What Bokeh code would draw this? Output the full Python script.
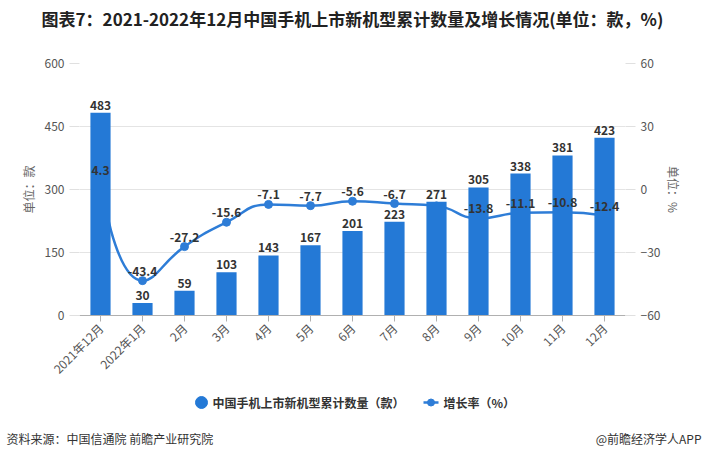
import math
from bokeh.plotting import figure
from bokeh.layouts import column
from bokeh.models import (Range1d, LinearAxis, FixedTicker, ColumnDataSource, Label)
from bokeh.embed import file_html
from bokeh.resources import INLINE
from bokeh.core.properties import value

# ---------------- data ----------------
categories = ["2021年12月", "2022年1月", "2月", "3月", "4月", "5月", "6月",
              "7月", "8月", "9月", "10月", "11月", "12月"]
models = [483, 30, 59, 103, 143, 167, 201, 223, 271, 305, 338, 381, 423]
growth = [4.3, -43.4, -27.2, -15.6, -7.1, -7.7, -5.6, -6.7, -7.8, -13.8, -11.1, -10.8, -12.4]
hidden_growth_label = ["8月"]          # label hidden in the original (overlap)
left_ticks = [0, 150, 300, 450, 600]
right_ticks = [-60, -30, 0, 30, 60]

title_text = "图表7：2021-2022年12月中国手机上市新机型累计数量及增长情况(单位：款，%)"
source_text = "资料来源：中国信通院 前瞻产业研究院"
brand_text = "@前瞻经济学人APP"
bar_name = "中国手机上市新机型累计数量（款）"
line_name = "增长率（%）"

# ---------------- style ----------------
FONT = "Noto Sans CJK SC"
BAR = "#2479d6"
LINE = "#2e7dd7"
W = 704
TOP_H = 40
MAIN_H = 350
BOT_H = 69
BL, BT, FW, FH = 79, 23, 546, 252
BR = W - BL - FW
BB = MAIN_H - BT - FH


def strip(h):
    f = figure(width=W, height=h, output_backend="svg", toolbar_location=None,
               x_range=Range1d(0, W), y_range=Range1d(h, 0),
               x_axis_type=None, y_axis_type=None, min_border=0, frame_align=False)
    f.outline_line_color = None
    f.grid.visible = False
    return f


# ---------------- title strip ----------------
top = strip(TOP_H)
top.add_layout(Label(x=W / 2, y=18, text=title_text, text_align="center",
                     text_baseline="middle", text_font=FONT, text_font_size="17px",
                     text_font_style="bold", text_color="#222222"))

# ---------------- main chart ----------------
n = len(categories)
xs = list(range(n))

p = figure(width=W, height=MAIN_H, output_backend="svg", toolbar_location=None,
           x_range=Range1d(-0.5, n - 0.5), y_range=Range1d(0, 600),
           min_border_left=BL, min_border_right=BR, min_border_top=BT,
           min_border_bottom=BB, frame_align=False)
p.outline_line_color = None
p.extra_y_ranges = {"pct": Range1d(-60, 60)}

p.xgrid.visible = False
p.ygrid.ticker = FixedTicker(ticks=left_ticks)
p.ygrid.grid_line_color = "#e4e4e4"

xa = p.xaxis[0]
xa.ticker = FixedTicker(ticks=xs)
xa.major_label_overrides = {i: c for i, c in enumerate(categories)}
xa.major_label_orientation = math.pi / 4
xa.axis_line_color = "#b0b0b0"
xa.major_tick_line_color = "#b0b0b0"
xa.major_tick_out = 6
xa.major_tick_in = 0
xa.minor_tick_line_color = None
xa.major_label_text_font = FONT
xa.major_label_text_font_size = "12px"
xa.major_label_text_color = "#555555"
xa.major_label_standoff = 4

ya = p.yaxis[0]
ya.ticker = FixedTicker(ticks=left_ticks)
ya.axis_line_color = None
ya.major_tick_line_color = "#e0e0e0"
ya.major_tick_out = 10
ya.major_tick_in = 0
ya.minor_tick_line_color = None
ya.major_label_text_font = FONT
ya.major_label_text_font_size = "12px"
ya.major_label_text_color = "#555555"
ya.axis_label = "单位：款"
ya.axis_label_text_font = FONT
ya.axis_label_text_font_size = "12px"
ya.axis_label_text_font_style = "normal"
ya.axis_label_text_color = "#666666"
ya.axis_label_standoff = 5

ra = LinearAxis(y_range_name="pct", ticker=FixedTicker(ticks=right_ticks))
ra.axis_line_color = None
ra.major_tick_line_color = "#e0e0e0"
ra.major_tick_out = 10
ra.major_tick_in = 0
ra.minor_tick_line_color = None
ra.major_label_text_font = FONT
ra.major_label_text_font_size = "12px"
ra.major_label_text_color = "#555555"
ra.axis_label = "单位：%"
ra.axis_label_text_font = FONT
ra.axis_label_text_font_size = "12px"
ra.axis_label_text_font_style = "normal"
ra.axis_label_text_color = "#666666"
ra.axis_label_standoff = 2
p.add_layout(ra, "right")

# smooth growth line (bezier segments, echarts-like smoothing)
sx = FW / n
sy = FH / 120.0
P = [(i * sx, g * sy) for i, g in zip(xs, growth)]
smooth = 0.5
cp_out = [None] * n
cp_in = [None] * n
cp_out[0] = P[0]
cp_in[n - 1] = P[n - 1]
for i in range(1, n - 1):
    x, y = P[i]
    px_, py_ = P[i - 1]
    nx_, ny_ = P[i + 1]
    vx, vy = nx_ - px_, ny_ - py_
    lp = math.hypot(x - px_, y - py_)
    ln = math.hypot(nx_ - x, ny_ - y)
    r = ln / (ln + lp)
    ncx = x + vx * smooth * r
    ncy = y + vy * smooth * r
    ncx = max(min(ncx, max(nx_, x)), min(nx_, x))
    ncy = max(min(ncy, max(ny_, y)), min(ny_, y))
    vx, vy = ncx - x, ncy - y
    c1x = x - vx * lp / ln
    c1y = y - vy * lp / ln
    c1x = max(min(c1x, max(px_, x)), min(px_, x))
    c1y = max(min(c1y, max(py_, y)), min(py_, y))
    vx, vy = x - c1x, y - c1y
    ncx = x + vx * ln / lp
    ncy = y + vy * ln / lp
    cp_in[i] = (c1x, c1y)
    cp_out[i] = (ncx, ncy)

seg = dict(x0=[], y0=[], x1=[], y1=[], cx0=[], cy0=[], cx1=[], cy1=[])
for i in range(n - 1):
    seg["x0"].append(xs[i]); seg["y0"].append(growth[i])
    seg["x1"].append(xs[i + 1]); seg["y1"].append(growth[i + 1])
    seg["cx0"].append(cp_out[i][0] / sx); seg["cy0"].append(cp_out[i][1] / sy)
    seg["cx1"].append(cp_in[i + 1][0] / sx); seg["cy1"].append(cp_in[i + 1][1] / sy)
p.bezier(x0="x0", y0="y0", x1="x1", y1="y1", cx0="cx0", cy0="cy0",
         cx1="cx1", cy1="cy1", source=ColumnDataSource(seg),
         y_range_name="pct", line_color=LINE, line_width=2.5, line_cap="round")
p.scatter(x=xs, y=growth, y_range_name="pct", size=8, marker="circle",
          fill_color=LINE, line_color=LINE)

bar_src = ColumnDataSource(dict(x=xs, top=models, lab=[str(v) for v in models]))
p.vbar(x="x", top="top", width=0.48, source=bar_src, fill_color=BAR, line_color=None)
p.text(x="x", y="top", text="lab", source=bar_src, text_align="center",
       text_baseline="bottom", y_offset=-3, text_font=value(FONT),
       text_font_size="12px", text_font_style="bold", text_color="#333333")

gx, gy, gl = [], [], []
for c, i, g in zip(categories, xs, growth):
    if c in hidden_growth_label:
        continue
    gx.append(i); gy.append(g); gl.append(f"{g:g}")
p.text(x=gx, y=gy, text=gl, y_range_name="pct", text_align="center",
       text_baseline="bottom", y_offset=-5, text_font=value(FONT),
       text_font_size="12px", text_font_style="bold", text_color="#333333")

# ---------------- legend + footer strip ----------------
bot = strip(BOT_H)
LEG_Y = 12
bot.scatter(x=[201], y=[LEG_Y], marker="circle", size=12, fill_color=BAR, line_color=BAR)
bot.line(x=[423, 438], y=[LEG_Y, LEG_Y], line_color=LINE, line_width=2.5)
bot.scatter(x=[430.5], y=[LEG_Y], marker="circle", size=7, fill_color=LINE, line_color=LINE)
bot.add_layout(Label(x=212, y=LEG_Y, text=bar_name, text_align="left", text_baseline="middle",
                     text_font=FONT, text_font_size="12px", text_font_style="bold",
                     text_color="#333333"))
bot.add_layout(Label(x=443, y=LEG_Y, text=line_name, text_align="left", text_baseline="middle",
                     text_font=FONT, text_font_size="12px", text_font_style="bold",
                     text_color="#333333"))
bot.add_layout(Label(x=6, y=48, text=source_text, text_align="left", text_baseline="middle",
                     text_font=FONT, text_font_size="12px", text_color="#333333"))
bot.add_layout(Label(x=701, y=48, text=brand_text, text_align="right", text_baseline="middle",
                     text_font=FONT, text_font_size="12px", text_color="#333333"))

layout = column(top, p, bot, spacing=0)
open("out.html", "w").write(file_html(layout, INLINE))
